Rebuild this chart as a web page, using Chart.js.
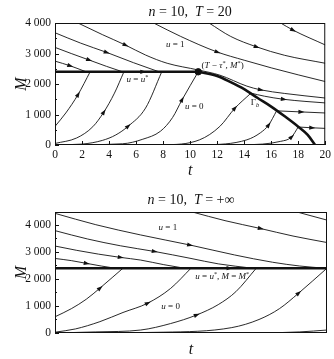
<!DOCTYPE html>
<html>
<head>
<meta charset="utf-8">
<script src="https://cdn.jsdelivr.net/npm/chart.js@4"></script>
<style>
  html, body { margin: 0; padding: 0; background: #fff; }
  canvas { display: block; }
</style>
</head>
<body>
<canvas id="topChart" width="334" height="180"></canvas>
<canvas id="botChart" width="334" height="179"></canvas>
<script>
// ---- data: [t, M] pairs ----
// top panel, T = 20
const mStarTop   = [[0, 2400], [6.5, 2400], [10.6, 2400]];
const gammaB     = [[10.6, 2400], [12, 2260], [13, 2060], [14, 1830], [15, 1540], [16, 1260], [17, 940], [18, 600], [18.7, 330], [19.25, 0]];
const switchDot  = [[10.6, 2400]];
const upA  = [[0, 2750], [1.1, 2600], [2.3, 2400]];
const upB  = [[0, 3200], [1.2, 3000], [2.5, 2790], [3.8, 2580], [5.0, 2400]];
const upC  = [[0, 3680], [1.9, 3340], [3.8, 3040], [5.8, 2700], [7.7, 2400]];
const upD  = [[1.7, 4000], [3.5, 3620], [5.2, 3280], [6.7, 2950], [8.3, 2680], [10.6, 2460], [12.2, 2290], [14.2, 1930], [15.2, 1810], [17, 1690], [20, 1540]];
const upE  = [[7.3, 4000], [9.3, 3560], [12, 3050], [14, 2780], [16, 2530], [18, 2300], [20, 2080]];
const upF  = [[11.4, 4000], [13, 3560], [14.9, 3220], [17, 2940], [20, 2680]];
const upG  = [[16.7, 4000], [17.6, 3770], [20, 3280]];
const lowA = [[0, 610], [0.8, 1050], [1.7, 1650], [2.6, 2400]];
const lowB = [[0, 50], [1.6, 230], [2.8, 600], [3.6, 1070], [4.4, 1700], [5.1, 2400]];
const lowC = [[0, 5], [2, 30], [3.5, 150], [4.5, 330], [5.4, 610], [6.7, 1210], [7.9, 2400]];
const lowD = [[0, 0], [5, 40], [6.5, 190], [7.8, 450], [8.7, 900], [9.4, 1480], [10.6, 2400]];
const lowE = [[0, 0], [8, 10], [10.7, 170], [12.2, 610], [13.3, 1200], [14.5, 1700]];
const lowF = [[0, 0], [11, 10], [14.2, 170], [15.2, 400], [15.8, 650], [16.4, 1120]];
const lowG = [[0, 0], [14, 10], [16.7, 120], [17.5, 260], [18, 590]];
const outE = [[14.5, 1700], [15.5, 1600], [16.9, 1500], [18.5, 1430], [20, 1380]];
const outF = [[16.4, 1120], [18.2, 1085], [20, 1050]];
const outG = [[18, 590], [19, 565], [20, 545]];

// bottom panel, T = +inf
const mStarBot = [[0, 2400], [12.8, 2400], [20, 2400]];
const baseBot  = [[0, 0], [20, 0]];
const bUpA = [[0, 2760], [1.2, 2680], [2.3, 2580], [3.4, 2480], [4.4, 2400]];
const bUpB = [[0, 3220], [1.6, 3060], [3.2, 2920], [4.8, 2800], [6.3, 2700], [8, 2530], [9.5, 2400]];
const bUpC = [[0, 3790], [2.4, 3480], [4.8, 3230], [7.3, 3020], [10, 2760], [12, 2560], [14.5, 2400]];
const bUpD = [[0, 4430], [3, 4010], [6.3, 3630], [9.9, 3260], [13.2, 2890], [16, 2620], [18, 2480], [19.8, 2400]];
const bUpE = [[10.1, 4480], [12.5, 4160], [15.1, 3870], [17.5, 3590], [20, 3350]];
const bUpF = [[17.8, 4480], [20, 4180]];
const bLowA = [[0, 600], [1.2, 900], [2.3, 1250], [3.3, 1660], [4.2, 2050], [5, 2400]];
const bLowB = [[0, 30], [1.5, 150], [3.3, 420], [5, 760], [6.8, 1100], [8.5, 1650], [10, 2400]];
const bLowC = [[0, 0], [3, 40], [6.3, 110], [8.5, 350], [10.4, 665], [12, 1050], [13.3, 1530], [14.8, 2400]];
const bLowD = [[0, 0], [8, 30], [13, 200], [15, 500], [16.5, 900], [17.9, 1470], [20, 2400]];
const bLowE = [[0, 0], [15, 5], [18, 40], [20, 110]];

// tick values
const xTicksTop = [0, 2, 4, 6, 8, 10, 12, 14, 16, 18, 20];
const yTicksTop = [0, 1000, 2000, 3000, 4000];
const yTicksBot = [0, 1000, 2000, 3000, 4000];

// in-plot labels: [segments, t, M, align]
const labelsTop = [
  [[['u', 1], [' = 1', 0]], 8.9, 3300, 'center'],
  [[['u', 1], [' = ', 0], ['u', 1], ['*', 0, 'sup']], 6.1, 2130, 'center'],
  [[['u', 1], [' = 0', 0]], 10.3, 1250, 'center'],
  [[['(', 0], ['T', 1], [' \u2212 ', 0], ['\u03c4', 1], ['*', 0, 'sup'], [', ', 0], ['M', 1], ['*', 0, 'sup'], [')', 0]], 10.85, 2590, 'left'],
  [[['\u0393', 0], ['b', 1, 'sub']], 14.8, 1380, 'center']
];
const labelsBot = [
  [[['u', 1], [' = 1', 0]], 8.3, 3885, 'center'],
  [[['u', 1], [' = 0', 0]], 8.5, 960, 'center'],
  [[['u', 1], [' = ', 0], ['u', 1], ['*', 0, 'sup'], [', ', 0], ['M', 1], [' = ', 0], ['M', 1], ['*', 0, 'sup']], 12.3, 2070, 'center']
];
const titleTop = [['n', 1], [' = 10,  ', 0], ['T', 1], [' = 20', 0]];
const titleBot = [['n', 1], [' = 10,  ', 0], ['T', 1], [' = +\u221e', 0]];

const FAM = "'Liberation Serif', 'DejaVu Serif', serif";
const INK = '#111';

function curve(pts, arrows, width) {
  return {
    data: pts.map(p => ({ x: p[0], y: p[1] })),
    showLine: true,
    borderColor: INK,
    borderWidth: width || 0.9,
    pointRadius: 0,
    cubicInterpolationMode: 'monotone',
    fill: false,
    arrows: arrows || []
  };
}

function fmtThousands(v) {
  if (v < 1000) return String(v);
  return Math.floor(v / 1000) + ' ' + String(v % 1000).padStart(3, '0');
}

function drawRich(ctx, segs, x, y, size, align) {
  const fontOf = s => (s[1] ? 'italic ' : '') + (s[2] ? size * 0.7 : size) + 'px ' + FAM;
  const widths = segs.map(s => { ctx.font = fontOf(s); return ctx.measureText(s[0]).width; });
  const total = widths.reduce((a, b) => a + b, 0);
  let cx = align === 'left' ? x : x - total / 2;
  ctx.textAlign = 'left';
  ctx.textBaseline = 'middle';
  ctx.fillStyle = INK;
  segs.forEach((s, i) => {
    ctx.font = fontOf(s);
    let dy = 0;
    if (s[2] === 'sup') dy = -size * 0.35;
    if (s[2] === 'sub') dy = size * 0.3;
    ctx.fillText(s[0], cx, y + dy);
    cx += widths[i];
  });
}

const phasePlugin = {
  id: 'phase',
  afterDatasetsDraw(chart, args, opts) {
    const ctx = chart.ctx;
    const { left, right, top, bottom } = chart.chartArea;
    const xs = chart.scales.x, ys = chart.scales.y;

    // arrowheads along trajectories
    chart.data.datasets.forEach((ds, i) => {
      if (!ds.arrows || !ds.arrows.length) return;
      const pts = chart.getDatasetMeta(i).data;
      ds.arrows.forEach(k => {
        const p = pts[k];
        let dx, dy;
        if (p.cp1x !== undefined && (p.cp2x - p.cp1x || p.cp2y - p.cp1y)) {
          dx = p.cp2x - p.cp1x; dy = p.cp2y - p.cp1y;
        } else {
          const a = pts[Math.max(k - 1, 0)], b = pts[Math.min(k + 1, pts.length - 1)];
          dx = b.x - a.x; dy = b.y - a.y;
        }
        const ang = Math.atan2(dy, dx);
        ctx.save();
        ctx.translate(p.x, p.y);
        ctx.rotate(ang);
        ctx.beginPath();
        ctx.moveTo(3.5, 0);
        ctx.lineTo(-2.5, -2.1);
        ctx.lineTo(-2.5, 2.1);
        ctx.closePath();
        ctx.fillStyle = INK;
        ctx.fill();
        ctx.restore();
      });
    });

    // frame with inner tick marks
    ctx.save();
    ctx.strokeStyle = INK;
    ctx.lineWidth = 1;
    ctx.strokeRect(left + 0.5, top + 0.5, right - left - 1, bottom - top - 1);
    ctx.beginPath();
    const yStep = 500;
    for (let v = ys.min; v <= ys.max; v += yStep) {
      const py = Math.round(ys.getPixelForValue(v)) + 0.5;
      const len = v % 1000 === 0 ? 4 : 2;
      ctx.moveTo(left, py); ctx.lineTo(left + len, py);
    }
    if (opts.xTicks) {
      xs.ticks.forEach(t => {
        const px = Math.round(xs.getPixelForValue(t.value)) + 0.5;
        ctx.moveTo(px, bottom); ctx.lineTo(px, bottom - 4);
      });
    }
    ctx.stroke();
    ctx.restore();

    // labels
    (opts.labels || []).forEach(l => {
      drawRich(ctx, l[0], xs.getPixelForValue(l[1]), ys.getPixelForValue(l[2]), 9, l[3]);
    });
    drawRich(ctx, opts.title, (left + right) / 2, opts.titleY, 14, 'center');
  }
};

function makeChart(id, datasets, cfg) {
  return new Chart(document.getElementById(id), {
    type: 'scatter',
    data: { datasets },
    plugins: [phasePlugin],
    options: {
      responsive: false,
      animation: false,
      layout: { padding: { top: cfg.padTop, right: 7, left: 0, bottom: 0 } },
      plugins: {
        legend: { display: false },
        tooltip: { enabled: false },
        phase: { labels: cfg.labels, title: cfg.title, titleY: cfg.titleY, xTicks: cfg.xTicks }
      },
      scales: {
        x: {
          type: 'linear', min: 0, max: 20,
          afterBuildTicks: s => { s.ticks = cfg.xTicks ? xTicksTop.map(v => ({ value: v })) : []; },
          ticks: { display: !!cfg.xTicks, color: INK, font: { family: FAM, size: 11.5 }, padding: 3, maxRotation: 0 },
          grid: { display: false, drawTicks: false },
          border: { display: false },
          title: { display: true, text: 't', color: INK, font: { family: FAM, size: 16, style: 'italic' }, padding: 0 },
          afterFit: s => { s.height = cfg.xHeight; }
        },
        y: {
          type: 'linear', min: 0, max: cfg.yMax,
          afterBuildTicks: s => { s.ticks = cfg.yTicks.map(v => ({ value: v })); },
          ticks: { color: INK, font: { family: FAM, size: 11.5 }, padding: 4, callback: v => fmtThousands(v) },
          grid: { display: false, drawTicks: false },
          border: { display: false },
          title: { display: true, text: 'M', color: INK, font: { family: FAM, size: 16, style: 'italic' }, padding: { top: 12, bottom: 0 } },
          afterFit: s => { s.width = 55; }
        }
      }
    }
  });
}

const topSets = [
  curve(upA, [1]), curve(upB, [2]), curve(upC, [2]), curve(upD, [2, 8]),
  curve(upE, [2]), curve(upF, [2]), curve(upG, [1]),
  curve(lowA, [2]), curve(lowB, [3]), curve(lowC, [4]), curve(lowD, [5]),
  curve(lowE, [4]), curve(lowF, [4]), curve(lowG, [3]),
  curve(outE, [2]), curve(outF, [1]), curve(outG, [1]),
  curve(mStarTop, [1], 2.4),
  curve(gammaB, [], 2.6),
  { data: switchDot.map(p => ({ x: p[0], y: p[1] })), pointRadius: 3.2, backgroundColor: INK, borderColor: INK, showLine: false }
];

const botSets = [
  curve(bUpA, [2]), curve(bUpB, [3]), curve(bUpC, [3]), curve(bUpD, [3]),
  curve(bUpE, [2]), curve(bUpF, []),
  curve(bLowA, [3]), curve(bLowB, [4]), curve(bLowC, [4]), curve(bLowD, [5]), curve(bLowE, []),
  curve(mStarBot, [1], 2.4),
  curve(baseBot, [], 2.2)
];

makeChart('topChart', topSets, {
  padTop: 23, yMax: 4000, yTicks: yTicksTop, xTicks: true, xHeight: 35,
  labels: labelsTop, title: titleTop, titleY: 12
});
makeChart('botChart', botSets, {
  padTop: 32, yMax: 4480, yTicks: yTicksBot, xTicks: false, xHeight: 26,
  labels: labelsBot, title: titleBot, titleY: 20
});
</script>
</body>
</html>
